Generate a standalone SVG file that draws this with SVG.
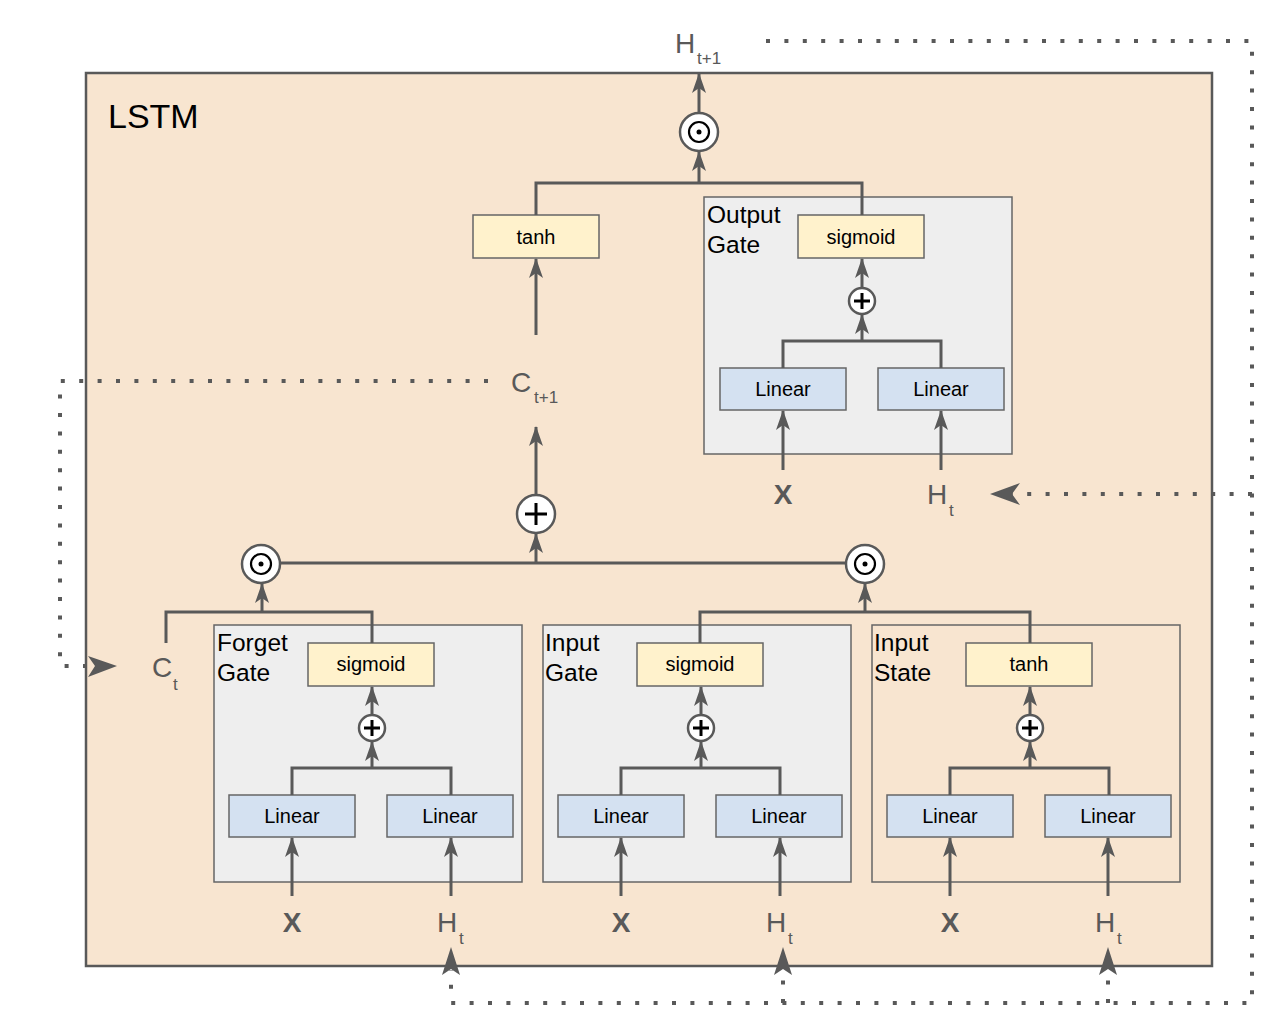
<svg xmlns="http://www.w3.org/2000/svg" width="1272" height="1016" viewBox="0 0 1272 1016">
<defs>
<style>
.line{fill:none;stroke:#595959;stroke-width:3}
.arr{fill:none;stroke:#595959;stroke-width:3;marker-end:url(#ah)}
.dot{fill:none;stroke:#595959;stroke-width:4;stroke-dasharray:4 14.4}
.gate{fill:#eeeeee;stroke:#666666;stroke-width:1.5}
.act{fill:#fff2cc;stroke:#666666;stroke-width:1.5}
.lin{fill:#d4e1f1;stroke:#666666;stroke-width:1.5}
.op{fill:#ffffff;stroke:#595959;stroke-width:2.5}
.t{font-family:"Liberation Sans",Arial,sans-serif;fill:#000}
.bt{font-size:20px;text-anchor:middle}
.gl{font-size:24.5px}
.v{font-family:"Liberation Sans",Arial,sans-serif;fill:#595959}
.x{font-family:"Liberation Sans",Arial,sans-serif;fill:#595959;font-weight:bold;font-size:28px;text-anchor:middle}
</style>
<marker id="ah" viewBox="0 0 20 14" refX="19" refY="7" markerWidth="20" markerHeight="14" markerUnits="userSpaceOnUse" orient="auto">
<path d="M0,0 L20,7 L0,14 L5,7 z" fill="#595959"/>
</marker>
</defs>
<rect width="1272" height="1016" fill="#ffffff"/>
<g id="lstm">
<rect x="86" y="73" width="1126" height="893" fill="#f8e5d0" stroke="#595959" stroke-width="2.5"/>
<text class="t" x="108" y="128" font-size="34">LSTM</text>
</g>
<g id="output-gate">
<rect class="gate" x="704" y="197" width="308" height="257"/>
<text class="t gl" x="707" y="223">Output</text>
<text class="t gl" x="707" y="253">Gate</text>
<rect class="act" x="798" y="215" width="126" height="43"/>
<text class="t bt" x="861" y="244">sigmoid</text>
<rect class="lin" x="720" y="368" width="126" height="42"/>
<text class="t bt" x="783" y="396">Linear</text>
<rect class="lin" x="878" y="368" width="126" height="42"/>
<text class="t bt" x="941" y="396">Linear</text>
</g>
<g id="forget-gate">
<rect class="gate" x="214" y="625" width="308" height="257"/>
<text class="t gl" x="217" y="651">Forget</text>
<text class="t gl" x="217" y="681">Gate</text>
<rect class="act" x="308" y="643" width="126" height="43"/>
<text class="t bt" x="371" y="671">sigmoid</text>
<rect class="lin" x="229" y="795" width="126" height="42"/>
<text class="t bt" x="292" y="823">Linear</text>
<rect class="lin" x="387" y="795" width="126" height="42"/>
<text class="t bt" x="450" y="823">Linear</text>
</g>
<g id="input-gate">
<rect class="gate" x="543" y="625" width="308" height="257"/>
<text class="t gl" x="545" y="651">Input</text>
<text class="t gl" x="545" y="681">Gate</text>
<rect class="act" x="637" y="643" width="126" height="43"/>
<text class="t bt" x="700" y="671">sigmoid</text>
<rect class="lin" x="558" y="795" width="126" height="42"/>
<text class="t bt" x="621" y="823">Linear</text>
<rect class="lin" x="716" y="795" width="126" height="42"/>
<text class="t bt" x="779" y="823">Linear</text>
</g>
<g id="input-state">
<rect x="872" y="625" width="308" height="257" fill="none" stroke="#666666" stroke-width="1.5"/>
<text class="t gl" x="874" y="651">Input</text>
<text class="t gl" x="874" y="681">State</text>
<rect class="act" x="966" y="643" width="126" height="43"/>
<text class="t bt" x="1029" y="671">tanh</text>
<rect class="lin" x="887" y="795" width="126" height="42"/>
<text class="t bt" x="950" y="823">Linear</text>
<rect class="lin" x="1045" y="795" width="126" height="42"/>
<text class="t bt" x="1108" y="823">Linear</text>
</g>
<g id="tanh-out">
<rect class="act" x="473" y="215" width="126" height="43"/>
<text class="t bt" x="536" y="244">tanh</text>
</g>
<g id="connectors">
<path class="line" d="M536,215 V183 H862 V215"/>
<path class="arr" d="M699,183 V152"/>
<path class="arr" d="M699,113 V74"/>
<path class="line" d="M783,368 V341 H941 V368"/>
<path class="arr" d="M862,341 V315"/>
<path class="arr" d="M862,288 V259"/>
<path class="arr" d="M783,470 V411"/>
<path class="arr" d="M941,470 V411"/>
<path class="arr" d="M536,335 V259"/>
<path class="arr" d="M536,495 V427"/>
<path class="line" d="M280,563 H846"/>
<path class="arr" d="M536,563 V534"/>
<path class="line" d="M166,643 V612 H372 V643"/>
<path class="arr" d="M262,612 V584"/>
<path class="line" d="M292,795 V768 H451 V795"/>
<path class="arr" d="M372,768 V742"/>
<path class="arr" d="M372,715 V687"/>
<path class="arr" d="M292,896 V838"/>
<path class="arr" d="M451,896 V838"/>
<path class="line" d="M700,643 V612 H1030 V643"/>
<path class="arr" d="M865,612 V584"/>
<path class="line" d="M621,795 V768 H780 V795"/>
<path class="arr" d="M701,768 V742"/>
<path class="arr" d="M701,715 V687"/>
<path class="arr" d="M621,896 V838"/>
<path class="arr" d="M780,896 V838"/>
<path class="line" d="M950,795 V768 H1109 V795"/>
<path class="arr" d="M1030,768 V742"/>
<path class="arr" d="M1030,715 V687"/>
<path class="arr" d="M950,896 V838"/>
<path class="arr" d="M1108,896 V838"/>
<path class="dot" d="M766,41 H1252 V1003 H451 V970"/>
<path class="dot" d="M1252,494 H1012"/>
<path class="dot" d="M783,1003 V970"/>
<path class="dot" d="M1108,1003 V970"/>
<path class="dot" d="M488,381 H60 V666 H96"/>
<path d="M990,494 L1020,483 L1012,494 L1020,505 z" fill="#595959"/>
<path d="M117,666 L88,656 L95,666 L88,677 z" fill="#595959"/>
<path d="M451,947 L442,975 L451,969 L460,975 z" fill="#595959"/>
<path d="M783,947 L774,975 L783,969 L792,975 z" fill="#595959"/>
<path d="M1108,947 L1099,975 L1108,969 L1117,975 z" fill="#595959"/>
</g>
<g id="ops">
<circle class="op" cx="699" cy="132" r="19"/>
<circle cx="699" cy="132" r="10" fill="none" stroke="#000" stroke-width="2.2"/>
<circle cx="699" cy="132" r="2.5" fill="#000"/>
<circle class="op" cx="261" cy="564" r="19"/>
<circle cx="261" cy="564" r="10" fill="none" stroke="#000" stroke-width="2.2"/>
<circle cx="261" cy="564" r="2.5" fill="#000"/>
<circle class="op" cx="865" cy="564" r="19"/>
<circle cx="865" cy="564" r="10" fill="none" stroke="#000" stroke-width="2.2"/>
<circle cx="865" cy="564" r="2.5" fill="#000"/>
<circle class="op" cx="536" cy="514" r="19"/>
<path d="M525,514 H547 M536,503 V525" stroke="#000" stroke-width="3"/>
<circle class="op" cx="862" cy="301" r="13" stroke-width="1.5"/>
<path d="M854,301 H870 M862,293 V309" stroke="#000" stroke-width="3"/>
<circle class="op" cx="372" cy="728" r="13" stroke-width="1.5"/>
<path d="M364,728 H380 M372,720 V736" stroke="#000" stroke-width="3"/>
<circle class="op" cx="701" cy="728" r="13" stroke-width="1.5"/>
<path d="M693,728 H709 M701,720 V736" stroke="#000" stroke-width="3"/>
<circle class="op" cx="1030" cy="728" r="13" stroke-width="1.5"/>
<path d="M1022,728 H1038 M1030,720 V736" stroke="#000" stroke-width="3"/>
</g>
<g id="labels">
<text class="v" x="675" y="53" font-size="28">H</text>
<text class="v" x="697" y="64" font-size="17">t+1</text>
<text class="v" x="511" y="392" font-size="28">C</text>
<text class="v" x="534" y="403" font-size="17">t+1</text>
<text class="v" x="152" y="677" font-size="28">C</text>
<text class="v" x="173" y="690" font-size="17">t</text>
<text class="x" x="783" y="504">X</text>
<text class="v" x="927" y="504" font-size="28">H</text>
<text class="v" x="949" y="516" font-size="17">t</text>
<text class="x" x="292" y="932">X</text>
<text class="v" x="437" y="932" font-size="28">H</text>
<text class="v" x="459" y="944" font-size="17">t</text>
<text class="x" x="621" y="932">X</text>
<text class="v" x="766" y="932" font-size="28">H</text>
<text class="v" x="788" y="944" font-size="17">t</text>
<text class="x" x="950" y="932">X</text>
<text class="v" x="1095" y="932" font-size="28">H</text>
<text class="v" x="1117" y="944" font-size="17">t</text>
</g>
</svg>
